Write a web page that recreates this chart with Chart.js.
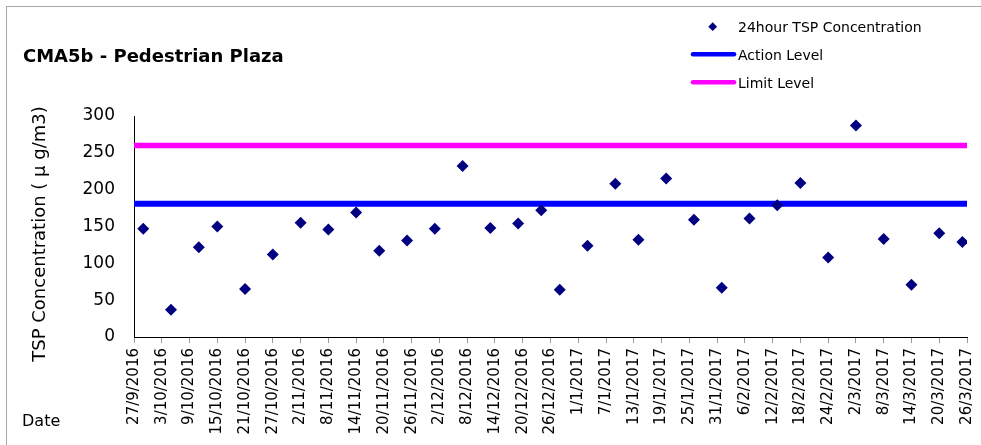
<!DOCTYPE html>
<html>
<head>
<meta charset="utf-8">
<script src="https://cdn.jsdelivr.net/npm/chart.js@4.4.0/dist/chart.umd.min.js"></script>
<style>
  html, body { margin: 0; padding: 0; background: #fff; }
  #wrap { position: relative; width: 981px; height: 445px; overflow: hidden; }
  #frame { position: absolute; left: 6px; top: 6px; width: 1000px; height: 500px;
           border-left: 1px solid #a6a6a6; border-top: 1px solid #a6a6a6; pointer-events: none; }
  canvas { position: absolute; left: 0; top: 0; }
</style>
</head>
<body>
<div id="wrap">
  <canvas id="myChart" width="981" height="445"></canvas>
  <div id="frame"></div>
</div>
<script>
// sampling dates and 24-hour TSP readings
const sampleDates = [
  '29/9/2016', '5/10/2016', '11/10/2016', '15/10/2016', '21/10/2016', '27/10/2016',
  '2/11/2016', '8/11/2016', '14/11/2016', '19/11/2016', '25/11/2016', '1/12/2016',
  '7/12/2016', '13/12/2016', '19/12/2016', '24/12/2016', '28/12/2016', '3/1/2017',
  '9/1/2017', '14/1/2017', '20/1/2017', '26/1/2017', '1/2/2017', '7/2/2017',
  '13/2/2017', '18/2/2017', '24/2/2017', '2/3/2017', '8/3/2017', '14/3/2017',
  '20/3/2017', '25/3/2017'
];
const tspValues = [
  147, 37, 122, 150, 65, 112,
  155, 146, 169, 117, 131, 147,
  232, 148, 154, 172, 64, 124,
  208, 132, 215, 159, 67, 161,
  179, 209, 108, 287, 133, 71,
  141, 129
];
const actionLevel = 181;
const limitLevel = 260;
const axisStart = '27/9/2016';
const axisEnd = '26/3/2017';
const yTicks = [0, 50, 100, 150, 200, 250, 300];

function toUtc(s) {
  const p = s.split('/').map(Number);
  return Date.UTC(p[2], p[1] - 1, p[0]);
}
const DAY = 86400000;
const t0 = toUtc(axisStart);
const dayOf = s => Math.round((toUtc(s) - t0) / DAY);
const lastDay = dayOf(axisEnd);

function dayLabel(v) {
  const d = new Date(t0 + v * DAY);
  return d.getUTCDate() + '/' + (d.getUTCMonth() + 1) + '/' + d.getUTCFullYear();
}

const points = sampleDates.map((s, i) => ({ x: dayOf(s), y: tspValues[i] }));

const FONT = "'DejaVu Sans', sans-serif";

// title, legend, y title and the "Date" caption
const extras = {
  id: 'extras',
  afterDraw(chart) {
    const ctx = chart.ctx;
    ctx.save();
    ctx.fillStyle = '#000';
    ctx.textBaseline = 'alphabetic';
    ctx.textAlign = 'left';
    ctx.font = 'bold 18px ' + FONT;
    ctx.fillText('CMA5b - Pedestrian Plaza', 23, 61.5);

    ctx.font = '16px ' + FONT;
    ctx.fillText('Date', 22, 425.5);

    // y axis title
    ctx.save();
    ctx.translate(40, 234);
    ctx.rotate(-Math.PI / 2);
    ctx.textAlign = 'center';
    ctx.textBaseline = 'middle';
    ctx.font = '18px ' + FONT;
    ctx.fillText('TSP Concentration ( \u03bc g/m3)', 0, 0);
    ctx.restore();

    ctx.font = '14px ' + FONT;
    // legend diamond
    ctx.fillStyle = '#000080';
    ctx.beginPath();
    ctx.moveTo(712.7, 22.3); ctx.lineTo(717.1, 26.7); ctx.lineTo(712.7, 31.1); ctx.lineTo(708.3, 26.7);
    ctx.closePath(); ctx.fill();
    ctx.fillStyle = '#000';
    ctx.fillText('24hour TSP Concentration', 738, 32.3);

    ctx.lineCap = 'round';
    ctx.lineWidth = 4.5;
    ctx.strokeStyle = '#0000ff';
    ctx.beginPath(); ctx.moveTo(693, 54.3); ctx.lineTo(734, 54.3); ctx.stroke();
    ctx.fillText('Action Level', 738, 59.6);

    ctx.strokeStyle = '#ff00ff';
    ctx.beginPath(); ctx.moveTo(693, 82.3); ctx.lineTo(734, 82.3); ctx.stroke();
    ctx.fillText('Limit Level', 738, 87.6);
    ctx.restore();
  }
};

const ctx = document.getElementById('myChart').getContext('2d');
const myChart = new Chart(ctx, {
  type: 'scatter',
  data: {
    datasets: [
      {
        label: 'Limit Level',
        data: [{ x: 0, y: limitLevel }, { x: lastDay, y: limitLevel }],
        showLine: true,
        borderColor: '#ff00ff',
        borderWidth: 5.5,
        pointRadius: 0,
        order: 2
      },
      {
        label: 'Action Level',
        data: [{ x: 0, y: actionLevel }, { x: lastDay, y: actionLevel }],
        showLine: true,
        borderColor: '#0000ff',
        borderWidth: 6,
        pointRadius: 0,
        order: 2
      },
      {
        label: '24hour TSP Concentration',
        data: points,
        pointStyle: 'rectRot',
        pointRadius: 6,
        pointBackgroundColor: '#000080',
        pointBorderColor: '#000080',
        pointBorderWidth: 0,
        order: 1
      }
    ]
  },
  options: {
    responsive: false,
    animation: false,
    layout: { padding: { left: 0, right: 14, top: 116, bottom: 0 } },
    plugins: {
      legend: { display: false },
      title: { display: false },
      tooltip: { enabled: false }
    },
    scales: {
      x: {
        type: 'linear',
        min: 0,
        max: lastDay,
        afterFit: s => { s.height = 108; s.paddingLeft = 0; s.paddingRight = 0; },
        afterBuildTicks: s => { s.ticks = []; for (let v = 0; v <= lastDay; v += 6) s.ticks.push({ value: v }); },
        ticks: {
          autoSkip: false,
          minRotation: 90,
          maxRotation: 90,
          padding: 5,
          color: '#000',
          font: { family: FONT, size: 15 },
          callback: v => dayLabel(v)
        },
        grid: { drawOnChartArea: false, drawTicks: true, tickLength: 6, color: '#999' },
        border: { color: '#000', width: 1 }
      },
      y: {
        min: 0,
        max: 300,
        afterFit: s => { s.width = 134; s.paddingTop = 0; s.paddingBottom = 0; },
        afterBuildTicks: s => { s.ticks = yTicks.map(v => ({ value: v })); },
        ticks: {
          padding: 19,
          color: '#000',
          font: { family: FONT, size: 17 }
        },
        grid: { display: false, drawTicks: false },
        border: { color: '#000', width: 1 }
      }
    }
  },
  plugins: [extras]
});
</script>
</body>
</html>
